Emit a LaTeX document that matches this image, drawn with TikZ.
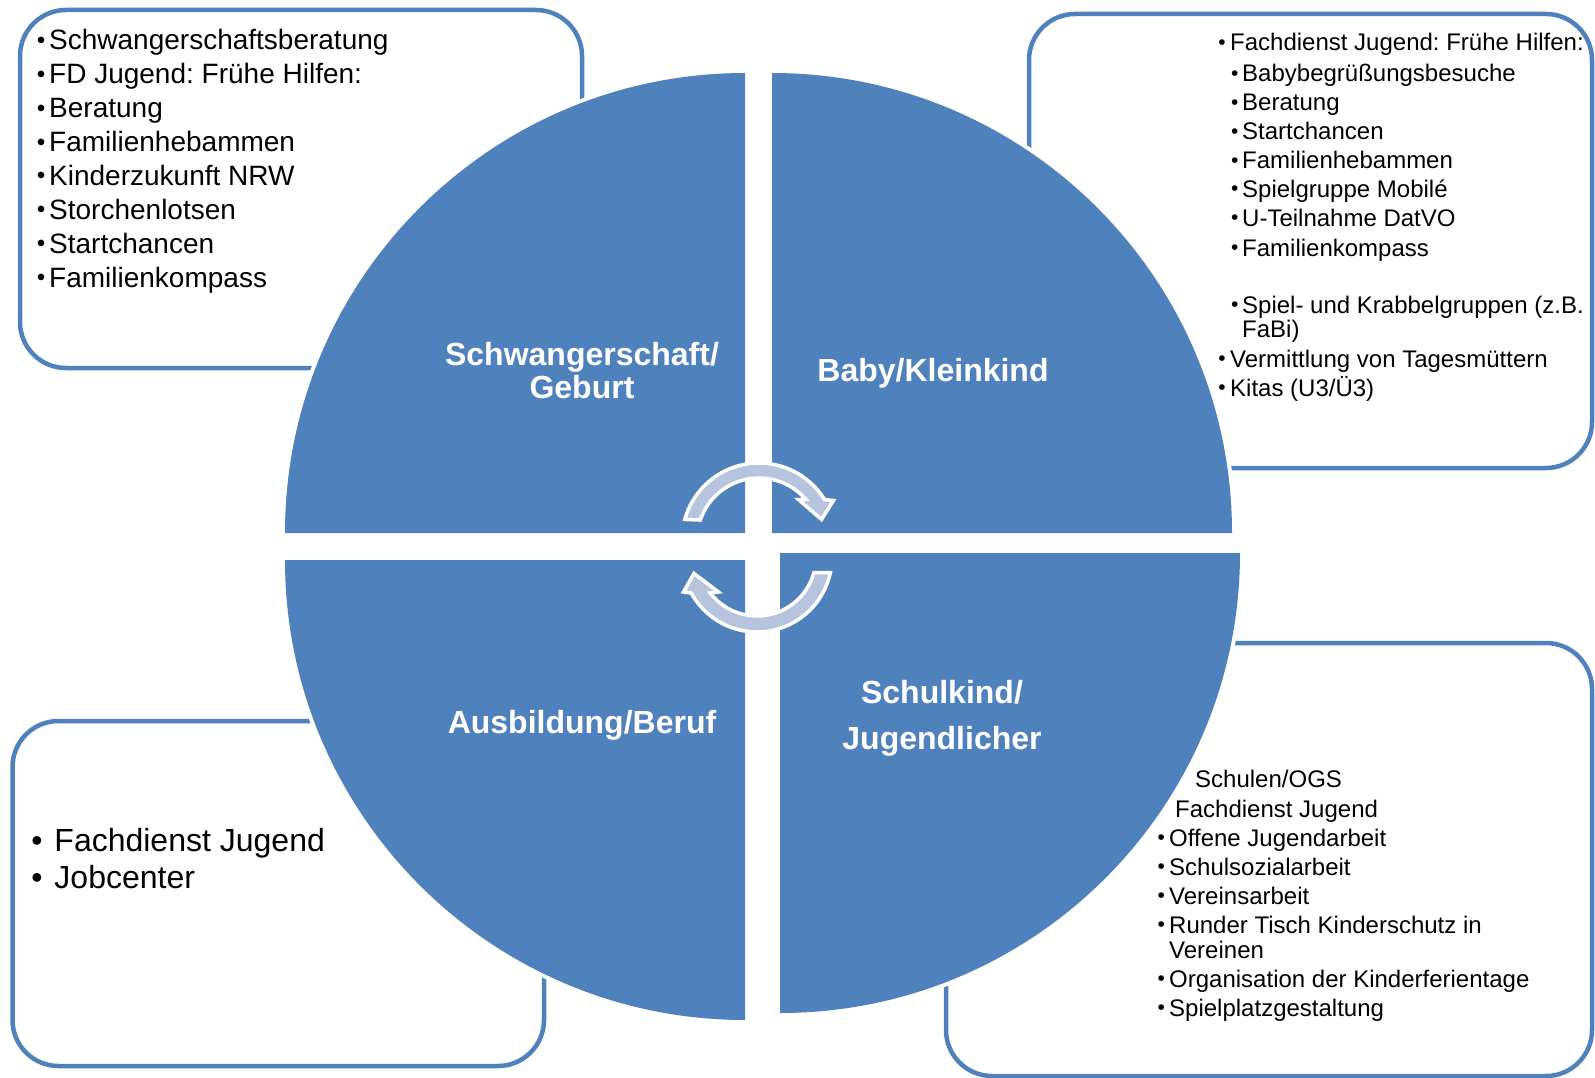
\documentclass[tikz,border=0pt]{standalone}
\usepackage{fontspec}
\setmainfont{Liberation Sans}
\frenchspacing
\definecolor{qblue}{RGB}{79,129,189}
\definecolor{arrfill}{RGB}{182,196,222}
\newcommand\bl[1]{\llap{\makebox[0pt]{\raisebox{0.05em}{\scalebox{0.87}{•}}}\kern#1pt}}
\newcommand\blbig[1]{\llap{\makebox[0pt]{•}\kern#1pt}}
\begin{document}
\begin{tikzpicture}[x=1pt,y=-1pt,
  boxline/.style={draw=qblue, line width=4.5pt, rounded corners=46pt},
  quad/.style={fill=qblue, preaction={fill=white, draw=white, line width=8pt}},
  lab/.style={text=white, font=\fontsize{32}{32}\selectfont\bfseries, anchor=base, inner sep=0pt},
  tA/.style={anchor=base west, inner sep=0pt, font=\fontsize{28}{28}\selectfont},
  tB/.style={anchor=base west, inner sep=0pt, font=\fontsize{24}{24}\selectfont},
  tC/.style={anchor=base west, inner sep=0pt, font=\fontsize{32}{32}\selectfont},
  arr/.style={fill=arrfill, draw=white, line width=3.5pt, line join=miter}
]
\useasboundingbox[fill=white] (0,0) rectangle (1595,1078);

% boxes
\draw[boxline] (20,10) rectangle (582,368);
\draw[boxline] (1029,14) rectangle (1592,468);
\draw[boxline] (946,643) rectangle (1592,1076);
\draw[boxline] (12.5,721) rectangle (544,1066);

% quadrants
\path[quad] (745,533) -- (285,533) arc[start angle=180, end angle=270, radius=460] -- cycle;
\path[quad] (772,533) -- (772,73) arc[start angle=270, end angle=360, radius=460] -- cycle;
\path[quad] (780,553) -- (1240,553) arc[start angle=0, end angle=90, radius=460] -- cycle;
\path[quad] (745,560) -- (745,1020) arc[start angle=90, end angle=180, radius=460] -- cycle;

% quadrant labels
\node[lab] (q1a) at (582,365.5) {Schwangerschaft/};
\node[lab] (q1b) at (582,398) {Geburt};
\node[lab] (q2) at (933,381) {Baby/Kleinkind};
\node[lab] (q3) at (582,733) {Ausbildung/Beruf};
\node[lab] (q4a) at (942,703) {Schulkind/};
\node[lab] (q4b) at (942,749) {Jugendlicher};

% circular arrows
\path[arr] ([shift={(759,540)}]-164.5:77) arc[start angle=-164.5, end angle=-31.7, radius=77]
  -- (833.5,500.5) -- (821.5,519.5) -- (798.5,499.5)
  -- ([shift={(759,540)}]-40.8:62) arc[start angle=-40.8, end angle=-161.2, radius=62] -- cycle;
\path[arr] ([shift={(757,557)}]12.1:75) arc[start angle=12.1, end angle=151.3, radius=75]
  -- (683.5,592) -- (694,573.5) -- (718.5,592)
  -- ([shift={(757,557)}]142.4:59) arc[start angle=142.4, end angle=15.4, radius=59] -- cycle;

% top-left box text
\node[tA] (a1) at (49,50) {\bl{8}Schwangerschaftsberatung};
\node[tA] (a2) at (49,83.9) {\bl{8}FD Jugend: Frühe Hilfen:};
\node[tA] (a3) at (49,117.7) {\bl{8}Beratung};
\node[tA] (a4) at (49,151.6) {\bl{8}Familienhebammen};
\node[tA] (a5) at (49,185.4) {\bl{8}Kinderzukunft NRW};
\node[tA] (a6) at (49,219.3) {\bl{8}Storchenlotsen};
\node[tA] (a7) at (49,253.1) {\bl{8}Startchancen};
\node[tA] (a8) at (49,287) {\bl{8}Familienkompass};

% top-right box text
\node[tB] (b1) at (1230,51) {\bl{8.3}Fachdienst Jugend: Frühe Hilfen:};
\node[tB] (b2) at (1242,82) {\bl{7.5}Babybegrüßungsbesuche};
\node[tB] (b3) at (1242,111) {\bl{7.5}Beratung};
\node[tB] (b4) at (1242,140) {\bl{7.5}Startchancen};
\node[tB] (b5) at (1242,169) {\bl{7.5}Familienhebammen};
\node[tB] (b6) at (1242,197) {\bl{7.5}Spielgruppe Mobilé};
\node[tB] (b7) at (1242,226) {\bl{7.5}U-Teilnahme DatVO};
\node[tB] (b8) at (1242,256) {\bl{7.5}Familienkompass};
\node[tB] (b9) at (1242,313) {\bl{7.5}Spiel- und Krabbelgruppen (z.B.};
\node[tB] (b10) at (1242,337) {FaBi)};
\node[tB] (b11) at (1230,367) {\bl{8.3}Vermittlung von Tagesmüttern};
\node[tB] (b12) at (1230,396) {\bl{8.3}Kitas (U3/Ü3)};

% bottom-right box text
\node[tB] (c1) at (1195,787) {Schulen/OGS};
\node[tB] (c2) at (1175,817) {Fachdienst Jugend};
\node[tB] (c3) at (1169,846) {\bl{8}Offene Jugendarbeit};
\node[tB] (c4) at (1169,875) {\bl{8}Schulsozialarbeit};
\node[tB] (c5) at (1169,904) {\bl{8}Vereinsarbeit};
\node[tB] (c6) at (1169,933) {\bl{8}Runder Tisch Kinderschutz in};
\node[tB] (c7) at (1169,958) {Vereinen};
\node[tB] (c8) at (1169,987) {\bl{8}Organisation der Kinderferientage};
\node[tB] (c9) at (1169,1016) {\bl{8}Spielplatzgestaltung};

% bottom-left box text
\node[tC] (d1) at (54.3,851) {\blbig{17.6}Fachdienst Jugend};
\node[tC] (d2) at (54.3,888) {\blbig{17.6}Jobcenter};
\end{tikzpicture}
\end{document}
